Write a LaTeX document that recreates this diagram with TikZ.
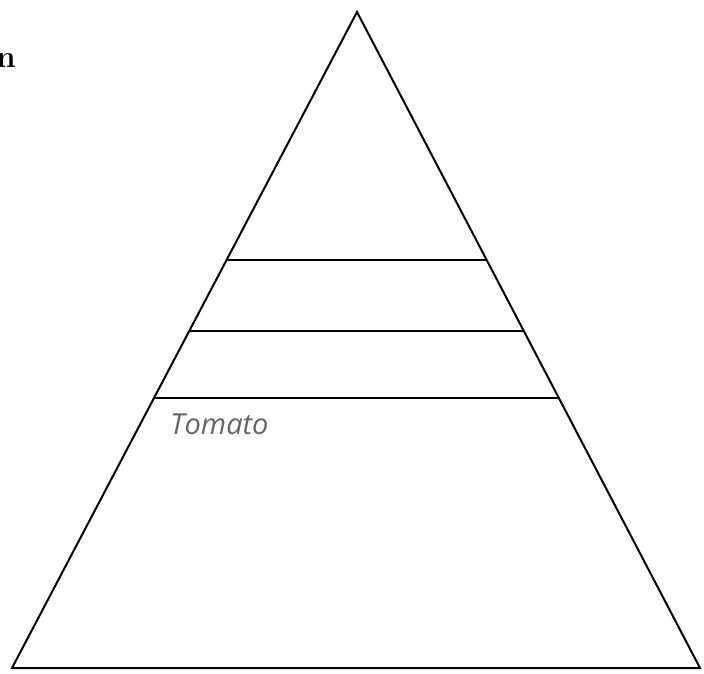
\documentclass[tikz,border=0pt]{standalone}
\usepackage{fontspec}
\usetikzlibrary{calc}
\newfontfamily\handfont{Open Sans}
\begin{document}
\begin{tikzpicture}[x=1pt,y=-1pt,
  edge/.style={line width=2pt,line join=miter},
  label/.style={font=\handfont\itshape\fontsize{29}{29}\selectfont,text=black!60,inner sep=0pt,anchor=base west}]
\useasboundingbox (0,0) rectangle (704,674);
\coordinate (apex) at (357,12);
\coordinate (bl) at (12,668);
\coordinate (br) at (700,668);
\draw[edge] (apex) -- (bl) -- (br) -- cycle;
\coordinate (l1) at ($(apex)!0.378!(bl)$);
\coordinate (r1) at ($(apex)!0.378!(br)$);
\coordinate (l2) at ($(apex)!0.486!(bl)$);
\coordinate (r2) at ($(apex)!0.486!(br)$);
\coordinate (l3) at ($(apex)!0.588!(bl)$);
\coordinate (r3) at ($(apex)!0.588!(br)$);
\draw[edge] (l1) -- (r1);
\draw[edge] (l2) -- (r2);
\draw[edge] (l3) -- (r3);
\node[label] (tomato) at (170,434) {Tomato};
\node[font=\bfseries\fontsize{31}{31}\selectfont,inner sep=0pt,anchor=base east] (n) at (16,68) {n};
\end{tikzpicture}
\end{document}
